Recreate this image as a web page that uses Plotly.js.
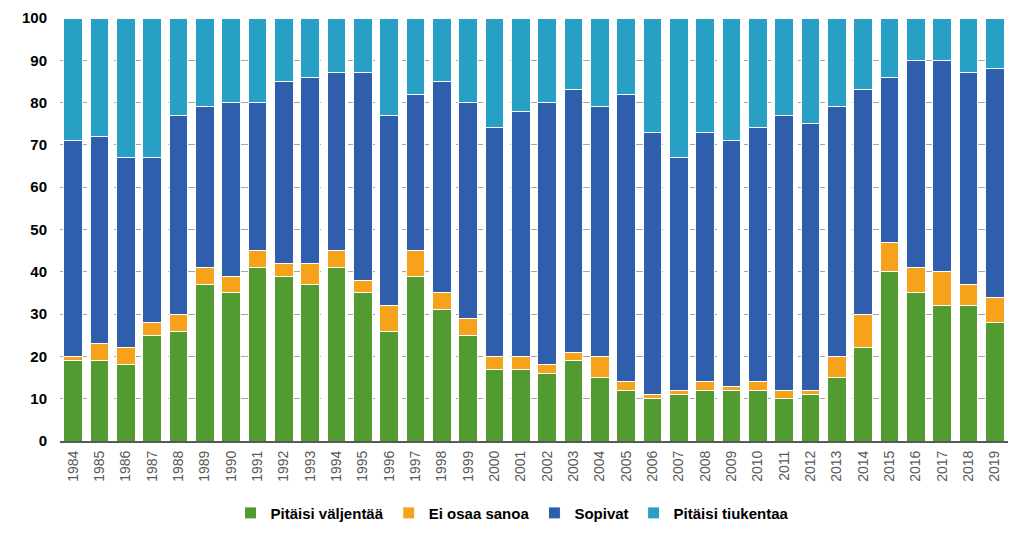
<!DOCTYPE html>
<html><head><meta charset="utf-8">
<script src="https://cdn.plot.ly/plotly-3.0.1.min.js"></script>
<style>html,body{margin:0;padding:0;background:#fff}#c{width:1024px;height:539px}</style>
</head><body><div id="c"></div>
<script>
var years = ["1984","1985","1986","1987","1988","1989","1990","1991","1992","1993","1994","1995","1996","1997","1998","1999","2000","2001","2002","2003","2004","2005","2006","2007","2008","2009","2010","2011","2012","2013","2014","2015","2016","2017","2018","2019"];
var valjentaa = [19,19,18,25,26,37,35,41,39,37,41,35,26,39,31,25,17,17,16,19,15,12,10,11,12,12,12,10,11,15,22,40,35,32,32,28];
var eiOsaa =    [1,4,4,3,4,4,4,4,3,5,4,3,6,6,4,4,3,3,2,2,5,2,1,1,2,1,2,2,1,5,8,7,6,8,5,6];
var sopivat =   [51,49,45,39,47,38,41,35,43,44,42,49,45,37,50,51,54,58,62,62,59,68,62,55,59,58,60,65,63,59,53,39,49,50,50,54];
var tiukentaa = [29,28,33,33,23,21,20,20,15,14,13,13,23,18,15,20,26,22,20,17,21,18,27,33,27,29,26,23,25,21,17,14,10,10,13,12];
var names = ["Pitäisi väljentää","Ei osaa sanoa","Sopivat","Pitäisi tiukentaa"];
var colors = ["#529B30","#F7A21B","#2E5EAC","#28A0C6"];
var series = [valjentaa, eiOsaa, sopivat, tiukentaa];
var traces = series.map(function(s,i){
  return {type:"bar", x:years, y:s, name:names[i],
    marker:{color:colors[i], line:{color:"#ffffff", width:1}}, hoverinfo:"x+y+name"};
});
var layout = {
  width:1024, height:539, barmode:"stack", bargap:0.3,
  margin:{l:60, r:16, t:18, b:98},
  paper_bgcolor:"#fff", plot_bgcolor:"#fff",
  font:{family:"Liberation Sans, Arial, sans-serif"},
  xaxis:{type:"category", tickangle:-90, showgrid:false, showline:true, linecolor:"#595959", linewidth:2,
    ticks:"", automargin:false, ticklabelstandoff:2,
    tickfont:{size:14, color:"#595959", family:"Liberation Sans, Arial, sans-serif"}},
  yaxis:{range:[0,100], dtick:10, showgrid:true, gridcolor:"#A6A6A6", griddash:"dash", gridwidth:1,
    zeroline:false, showline:false, ticks:"", automargin:false, ticklabelstandoff:12,
    tickfont:{size:15, color:"#000", family:"Liberation Sans Narrow, Liberation Sans, Arial, sans-serif", weight:"bold"}},
  showlegend:true,
  legend:{orientation:"h", x:0.5, xanchor:"center", xref:"container", yref:"container", y:0.048, yanchor:"middle", traceorder:"normal",
    font:{size:15, color:"#000", family:"Liberation Sans Narrow, Liberation Sans, Arial, sans-serif", weight:"bold"},
    itemwidth:30}
};
Plotly.newPlot("c", traces, layout, {displayModeBar:false, staticPlot:true});
</script></body></html>
